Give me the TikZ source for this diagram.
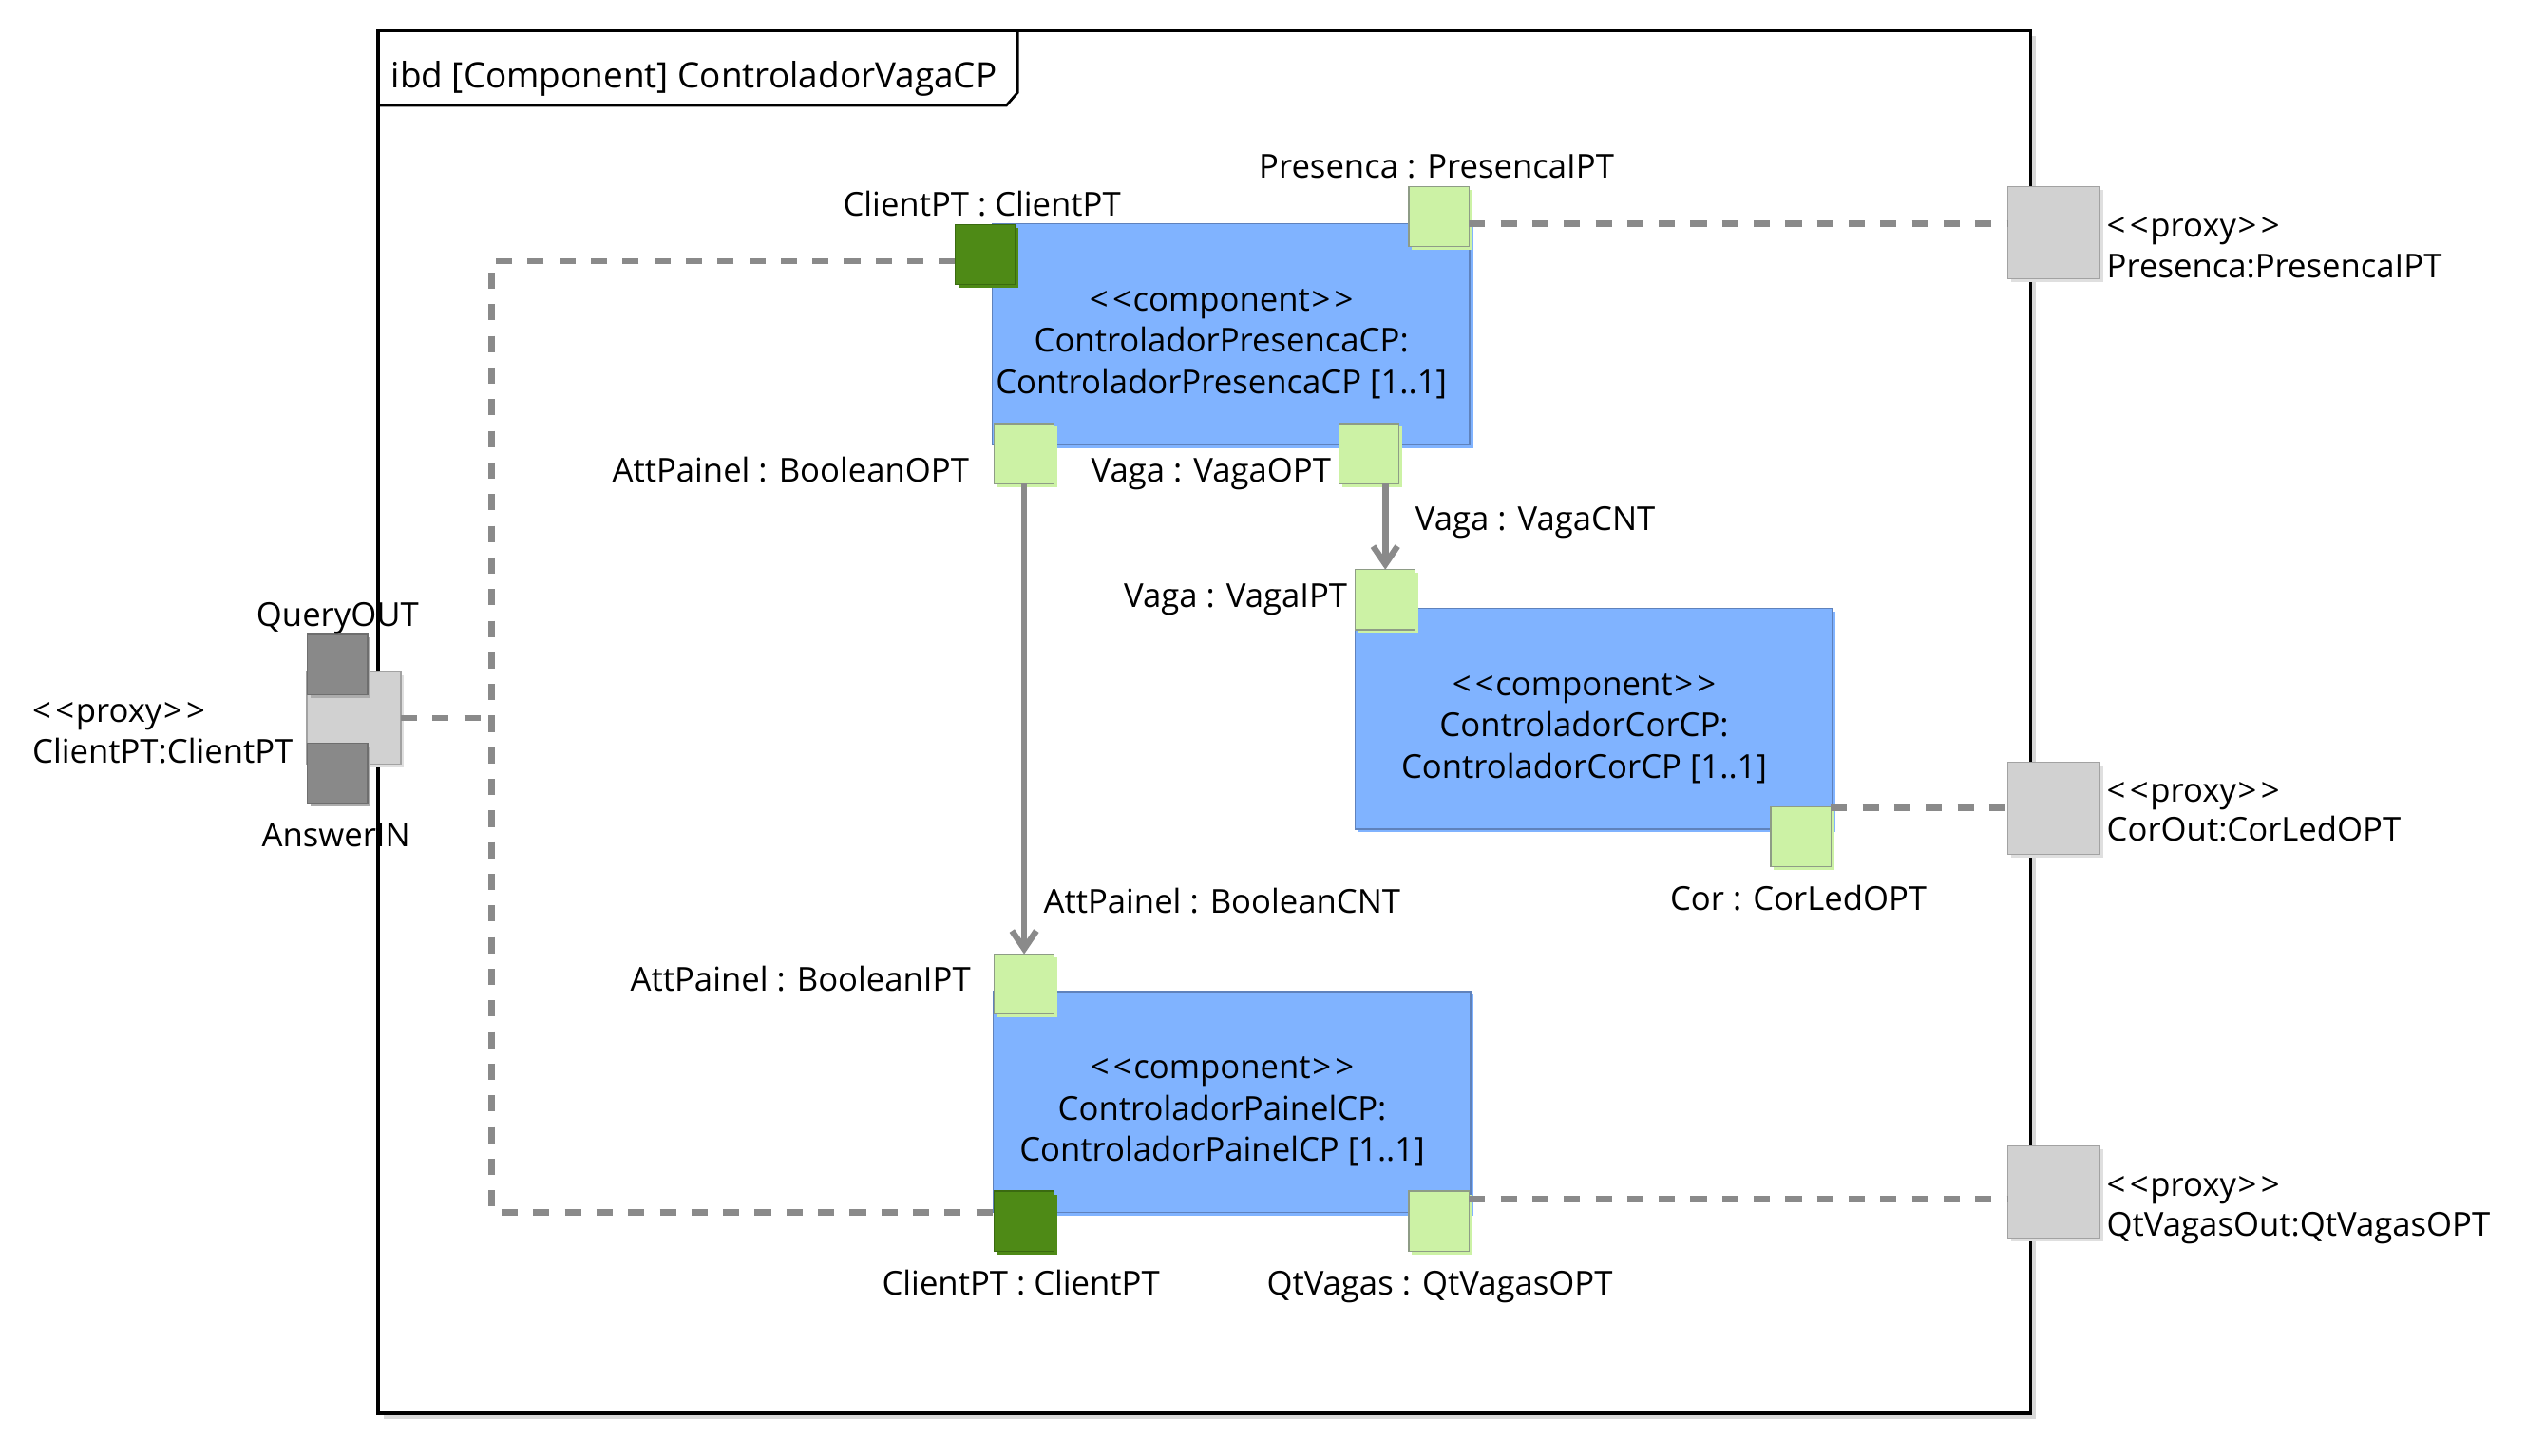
\documentclass[tikz,border=0pt]{standalone}
\usepackage{fontspec}
\setmainfont{Open Sans}
\usetikzlibrary{arrows.meta,shadows}

\definecolor{compblue}{HTML}{80B3FF}
\definecolor{compedge}{HTML}{5F82BC}
\definecolor{lgreen}{HTML}{CCF2A5}
\definecolor{lgreenedge}{HTML}{8E9C86}
\definecolor{dgreen}{HTML}{4E8A16}
\definecolor{dgreenedge}{HTML}{3A6A10}
\definecolor{pgray}{HTML}{D1D1D1}
\definecolor{pgrayedge}{HTML}{A2A2A2}
\definecolor{qgray}{HTML}{898989}
\definecolor{qgrayedge}{HTML}{6E6E6E}
\definecolor{cgray}{HTML}{8A8A8A}
\definecolor{fshadow}{HTML}{D8D8D8}

\newcommand{\stereo}[1]{<\kern2.5pt<\kern1pt#1\kern1pt>\kern2.5pt>}

\tikzset{
  every node/.style={font=\fontsize{20.3pt}{25.5pt}\selectfont, inner sep=0pt, outer sep=0pt},
  frm/.style={rectangle, draw=black, fill=white, line width=2pt,
    general shadow={fill=fshadow, shadow xshift=3.2pt, shadow yshift=-3.2pt}},
  comp/.style={rectangle, fill=compblue, draw=compedge, line width=0.8pt,
    minimum width=294pt, minimum height=136pt,
    general shadow={fill=compblue, shadow xshift=2pt, shadow yshift=-2pt}},
  comptext/.style={align=center},
  lport/.style={rectangle, fill=lgreen, draw=lgreenedge, line width=0.7pt,
    minimum size=37pt,
    general shadow={fill=lgreen, shadow xshift=2pt, shadow yshift=-2pt}},
  dport/.style={rectangle, fill=dgreen, draw=dgreenedge, line width=0.7pt,
    minimum size=37pt,
    general shadow={fill=dgreen, shadow xshift=2pt, shadow yshift=-2pt}},
  proxy/.style={rectangle, fill=pgray, draw=pgrayedge, line width=0.7pt,
    minimum size=57pt,
    general shadow={fill=pgray!70, shadow xshift=2pt, shadow yshift=-2pt}},
  qport/.style={rectangle, fill=qgray, draw=qgrayedge, line width=0.7pt,
    minimum size=37pt,
    general shadow={fill=qgray!70, shadow xshift=2pt, shadow yshift=-2pt}},
  bind/.style={draw=cgray, line width=4pt, dash pattern=on 10pt off 9.5pt},
  cnt/.style={draw=cgray, line width=3.8pt,
    -{Straight Barb[length=11pt, width=15pt, line cap=butt]}},
}

\begin{document}
\begin{tikzpicture}[x=1pt, y=-1pt]
  \useasboundingbox (0,0) rectangle (1568,897);

  % diagram frame and its heading tab
  \node[frm, minimum width=1018pt, minimum height=852pt] (frame) at (742,445) {};
  \draw[line width=1.6pt] (frame.north west |- 0,65) -- (620,65) -- (627,57) -- (627,0 |- frame.north);
  \node[anchor=base west, font=\fontsize{21.6pt}{26pt}\selectfont] (title) at (241,54) {ibd [Component] ControladorVagaCP};

  % parts
  \node[comp] (c1) at (758.5,206) {};
  \node[comptext] (c1t) at (752.5,212) {\stereo{component}\\ControladorPresencaCP:\\ControladorPresencaCP [1..1]};
  \node[comp] (c2) at (982,443) {};
  \node[comptext] (c2t) at (976,449) {\stereo{component}\\ControladorCorCP:\\ControladorCorCP [1..1]};
  \node[comp] (c3) at (759,679) {};
  \node[comptext] (c3t) at (753,685) {\stereo{component}\\ControladorPainelCP:\\ControladorPainelCP [1..1]};

  % ports of the parts
  \node[dport] (p1client) at (607,157) {};
  \node[lport] (p1pres) at (886.5,133.5) {};
  \node[lport] (p1att) at (631,279.5) {};
  \node[lport] (p1vaga) at (843.5,279.5) {};
  \node[lport] (p2vaga) at (853.5,369.5) {};
  \node[lport] (p2cor) at (1109.5,515.5) {};
  \node[lport] (p3att) at (631,606.5) {};
  \node[dport] (p3client) at (631,752.5) {};
  \node[lport] (p3qt) at (886.5,752.5) {};

  % boundary proxy ports
  \node[proxy] (ppres) at (1265.5,143.5) {};
  \node[proxy] (pcor) at (1265.5,498) {};
  \node[proxy] (pqt) at (1265.5,734.5) {};
  \node[proxy, minimum width=58pt] (pclient) at (218,442.5) {};
  \node[qport] (pquery) at (208,409.5) {};
  \node[qport] (panswer) at (208,476.5) {};

  % binding connectors
  \coordinate (jn) at (303,443);
  \draw[bind] (p1client.west |- 0,161) -| (jn) |- (p3client.west |- 0,747);
  \draw[bind] (pclient.east) -- (pclient.east -| jn);
  \draw[bind] (p1pres.east |- 0,138) -- (ppres.west |- 0,138);
  \draw[bind] (p2cor.east |- 0,498) -- (pcor.west |- 0,498);
  \draw[bind] (p3qt.east |- 0,739) -- (pqt.west |- 0,739);

  % item flows
  \draw[cnt] (p2vaga.north |- p1vaga.south) -- (p2vaga.north);
  \draw[cnt] (p1att.south) -- (p3att.north);

  % port and connector labels
  \node[anchor=base] (l1) at (605,133) {ClientPT : ClientPT};
  \node[anchor=base] (l2) at (885,110) {Presenca : PresencaIPT};
  \node[anchor=base east] (l3) at (597,297) {AttPainel : BooleanOPT};
  \node[anchor=base east] (l4) at (820,297) {Vaga : VagaOPT};
  \node[anchor=base west] (l5) at (872,327) {Vaga : VagaCNT};
  \node[anchor=base east] (l6) at (830,374) {Vaga : VagaIPT};
  \node[anchor=base] (l7) at (1108,561) {Cor : CorLedOPT};
  \node[anchor=base west] (l8) at (643,563) {AttPainel : BooleanCNT};
  \node[anchor=base east] (l9) at (598,611) {AttPainel : BooleanIPT};
  \node[anchor=base] (l10) at (629,798) {ClientPT : ClientPT};
  \node[anchor=base] (l11) at (887,798) {QtVagas : QtVagasOPT};

  % proxy labels
  \node[anchor=base west] (lp1a) at (1298,146) {\stereo{proxy}};
  \node[anchor=base west] (lp1b) at (1298,171) {Presenca:PresencaIPT};
  \node[anchor=base west] (lp2a) at (1298,494) {\stereo{proxy}};
  \node[anchor=base west] (lp2b) at (1298,518) {CorOut:CorLedOPT};
  \node[anchor=base west] (lp3a) at (1298,737) {\stereo{proxy}};
  \node[anchor=base west] (lp3b) at (1298,762) {QtVagasOut:QtVagasOPT};
  \node[anchor=base] (lq) at (208,386) {QueryOUT};
  \node[anchor=base] (la) at (207,522) {AnswerIN};
  \node[anchor=base west] (lc1) at (20,445) {\stereo{proxy}};
  \node[anchor=base west] (lc2) at (20,470) {ClientPT:ClientPT};
\end{tikzpicture}
\end{document}
